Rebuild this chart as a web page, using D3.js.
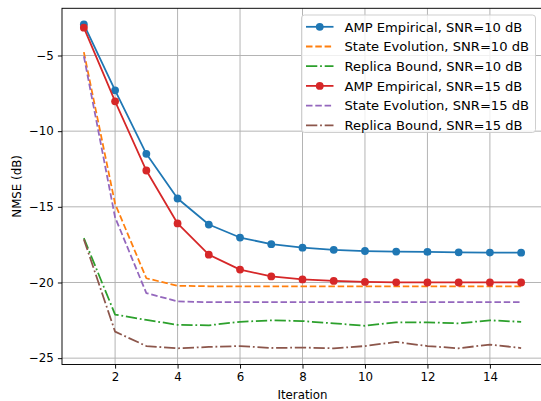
<!DOCTYPE html>
<html>
<head>
<meta charset="utf-8">
<script src="https://cdn.jsdelivr.net/npm/d3@7"></script>
<style>
  html, body { margin: 0; padding: 0; background: #fff; }
  svg { display: block; }
  text { font-family: "DejaVu Sans", sans-serif; fill: #000; }
</style>
</head>
<body>
<svg id="chart" width="541" height="401"></svg>
<script>
// Iteration index
const iterations = [1, 2, 3, 4, 5, 6, 7, 8, 9, 10, 11, 12, 13, 14, 15];

// NMSE (dB) per iteration
const ampEmp10 = [-2.95, -7.3, -11.5, -14.45, -16.17, -17.03, -17.47, -17.7, -17.84, -17.92, -17.96, -17.98, -18.01, -18.02, -18.03];
const stateEvo10 = [-4.78, -14.8, -19.72, -20.22, -20.25, -20.25, -20.25, -20.25, -20.25, -20.25, -20.25, -20.25, -20.25, -20.25, -20.25];
const replica10 = [-17.07, -22.12, -22.47, -22.8, -22.83, -22.6, -22.5, -22.55, -22.7, -22.86, -22.63, -22.63, -22.7, -22.5, -22.6];
const ampEmp15 = [-3.16, -8.03, -12.6, -16.1, -18.16, -19.15, -19.6, -19.8, -19.9, -19.96, -19.99, -20.0, -20.0, -20.0, -20.0];
const stateEvo15 = [-5.05, -15.7, -20.7, -21.25, -21.3, -21.3, -21.3, -21.3, -21.3, -21.3, -21.3, -21.3, -21.3, -21.3, -21.3];
const replica15 = [-17.15, -23.25, -24.2, -24.35, -24.26, -24.2, -24.33, -24.3, -24.35, -24.2, -23.93, -24.2, -24.35, -24.1, -24.33];

const xTicks = [2, 4, 6, 8, 10, 12, 14];
const yTicks = [-25, -20, -15, -10, -5];

const seriesNames = [
  "AMP Empirical, SNR=10 dB",
  "State Evolution, SNR=10 dB",
  "Replica Bound, SNR=10 dB",
  "AMP Empirical, SNR=15 dB",
  "State Evolution, SNR=15 dB",
  "Replica Bound, SNR=15 dB"
];

const series = [
  { name: seriesNames[0], values: ampEmp10, color: "#1f77b4", dash: null, marker: true },
  { name: seriesNames[1], values: stateEvo10, color: "#ff7f0e", dash: "6.5,2.8", marker: false },
  { name: seriesNames[2], values: replica10, color: "#2ca02c", dash: "11.3,2.8,1.8,2.8", marker: false },
  { name: seriesNames[3], values: ampEmp15, color: "#d62728", dash: null, marker: true },
  { name: seriesNames[4], values: stateEvo15, color: "#9467bd", dash: "6.5,2.8", marker: false },
  { name: seriesNames[5], values: replica15, color: "#8c564b", dash: "11.3,2.8,1.8,2.8", marker: false }
];

const svg = d3.select("#chart");
const plot = { left: 62, right: 543, top: 8.3, bottom: 364.5 };

// Domains padded by 5% like a default autoscale
const xMin = d3.min(iterations), xMax = d3.max(iterations);
const xPad = (xMax - xMin) * 0.05;
const allY = series.flatMap(s => s.values);
const yMin = d3.min(allY), yMax = d3.max(allY);
const yPad = (yMax - yMin) * 0.05;

const x = d3.scaleLinear().domain([xMin - xPad, xMax + xPad]).range([plot.left, plot.right]);
const y = d3.scaleLinear().domain([yMin - yPad, yMax + yPad]).range([plot.bottom, plot.top]);

const fontSize = 11.8;
const legendFontSize = 13.1;

// Grid
const grid = svg.append("g");
grid.selectAll("line.gx").data(xTicks).enter().append("line")
  .attr("x1", d => x(d)).attr("x2", d => x(d))
  .attr("y1", plot.top).attr("y2", plot.bottom)
  .attr("stroke", "#b0b0b0").attr("stroke-width", 0.95);
grid.selectAll("line.gy").data(yTicks).enter().append("line")
  .attr("x1", plot.left).attr("x2", plot.right)
  .attr("y1", d => y(d)).attr("y2", d => y(d))
  .attr("stroke", "#b0b0b0").attr("stroke-width", 0.95);

// Series lines
const line = d3.line().x((d, i) => x(iterations[i])).y(d => y(d));
series.forEach(s => {
  svg.append("path")
    .datum(s.values)
    .attr("d", line)
    .attr("fill", "none")
    .attr("stroke", s.color)
    .attr("stroke-width", 1.77)
    .attr("stroke-dasharray", s.dash)
    .attr("stroke-linejoin", "round")
    .attr("stroke-linecap", s.dash ? "butt" : "square");
  if (s.marker) {
    svg.append("g").selectAll("circle").data(s.values).enter().append("circle")
      .attr("cx", (d, i) => x(iterations[i]))
      .attr("cy", d => y(d))
      .attr("r", 3.9)
      .attr("fill", s.color);
  }
});

// Axes
const xAxis = d3.axisBottom(x).tickValues(xTicks).tickSize(4.1).tickPadding(4.1).tickFormat(d3.format("d"));
const yAxis = d3.axisLeft(y).tickValues(yTicks).tickSize(4.1).tickPadding(4.1)
  .tickFormat(d => d < 0 ? "\u2212" + Math.abs(d) : String(d));

const gx = svg.append("g").attr("transform", `translate(0,${plot.bottom})`).call(xAxis);
const gy = svg.append("g").attr("transform", `translate(${plot.left},0)`).call(yAxis);
[gx, gy].forEach(g => {
  g.select(".domain").remove();
  g.selectAll(".tick line").attr("stroke", "#000").attr("stroke-width", 0.95);
  g.selectAll(".tick text").attr("font-size", fontSize).attr("font-family", "DejaVu Sans, sans-serif").attr("fill", "#000");
});

// Spines
svg.append("rect")
  .attr("x", plot.left).attr("y", plot.top)
  .attr("width", plot.right - plot.left).attr("height", plot.bottom - plot.top)
  .attr("fill", "none").attr("stroke", "#000").attr("stroke-width", 0.95);

// Axis labels
svg.append("text")
  .attr("x", (plot.left + plot.right) / 2).attr("y", 399)
  .attr("text-anchor", "middle").attr("font-size", fontSize)
  .text("Iteration");
svg.append("text")
  .attr("transform", `translate(21,${(plot.top + plot.bottom) / 2}) rotate(-90)`)
  .attr("text-anchor", "middle").attr("font-size", fontSize)
  .text("NMSE (dB)");

// Legend
const lg = svg.append("g").attr("transform", "translate(301.5,15)");
const rowH = 19.7;
lg.append("rect")
  .attr("x", 0).attr("y", 0)
  .attr("width", 234).attr("height", 117.5)
  .attr("rx", 3).attr("ry", 3)
  .attr("fill", "#fff").attr("fill-opacity", 0.8)
  .attr("stroke", "#cccccc").attr("stroke-width", 0.95);
series.forEach((s, i) => {
  const cy = 11.8 + i * rowH;
  lg.append("line")
    .attr("x1", 4.5).attr("x2", 32)
    .attr("y1", cy).attr("y2", cy)
    .attr("stroke", s.color).attr("stroke-width", 1.77)
    .attr("stroke-dasharray", s.dash);
  if (s.marker) {
    lg.append("circle").attr("cx", 18.25).attr("cy", cy).attr("r", 3.9).attr("fill", s.color);
  }
  lg.append("text")
    .attr("x", 43).attr("y", cy)
    .attr("dy", "0.36em")
    .attr("font-size", legendFontSize)
    .text(s.name);
});
</script>
</body>
</html>
